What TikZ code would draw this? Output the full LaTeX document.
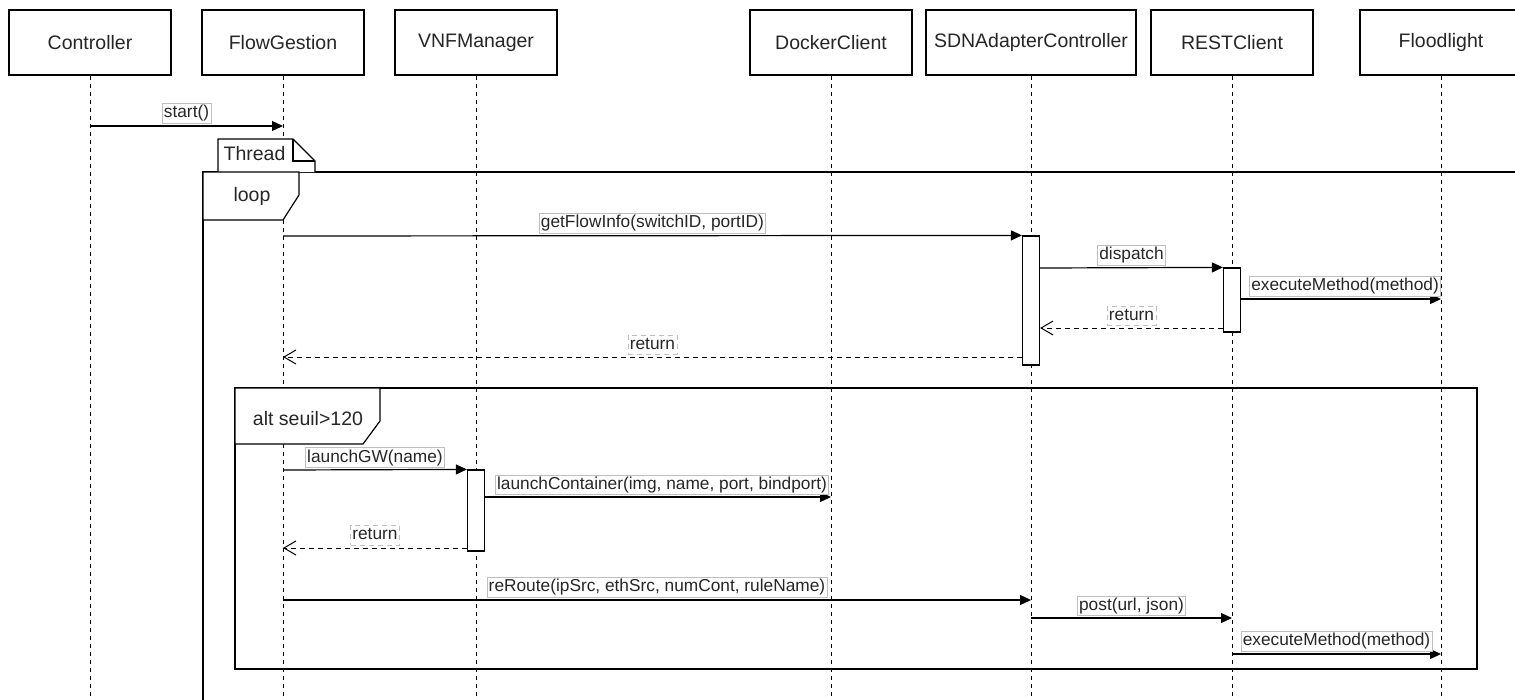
\documentclass[tikz,border=0pt]{standalone}
\usepackage{fontspec}
\setmainfont{Liberation Sans}
\usetikzlibrary{arrows.meta}
\begin{document}
\begin{tikzpicture}[x=1pt,y=-1pt,
  every node/.style={text=black!85},
  head/.style={draw, line width=1.2pt, minimum width=162pt, minimum height=65pt,
    inner sep=0pt, fill=white, font=\fontsize{19.5}{22}\selectfont},
  life/.style={line width=1pt, dash pattern=on 4pt off 4pt},
  act/.style={draw, line width=1.2pt, fill=white, minimum width=17pt, inner sep=0pt},
  msg/.style={line width=1.2pt, -{Triangle[length=11pt,width=10pt]}},
  ret/.style={line width=1pt, dash pattern=on 5pt off 4pt,
    -{Straight Barb[length=12pt,width=14pt,line width=1pt]}},
  lbl/.style={draw=black!25, line width=0.6pt, fill=white, inner sep=1.8pt,
    text height=12.6pt, text depth=3.6pt, font=\fontsize{17.3}{20}\selectfont},
  frame/.style={line width=1.2pt},
  ftag/.style={inner sep=0pt, font=\fontsize{19.5}{22}\selectfont}
]
\useasboundingbox (0,0) rectangle (1515,699);
\clip (0,0) rectangle (1515,699);

% participants
\node[head] (ctl) at (90,42.5) {Controller};
\node[head] (fg)  at (283,42.5) {FlowGestion};
\node[head] (vnf) at (476,42.5) {VNFManager};
\node[head] (dc)  at (831,42.5) {DockerClient};
\node[head, minimum width=210pt] (sdn) at (1031,42.5) {SDNAdapterController};
\node[head] (rc)  at (1232,42.5) {RESTClient};
\node[head] (fl)  at (1441,42.5) {Floodlight};

% lifelines
\foreach \p in {ctl,fg,vnf,dc,sdn,rc,fl}
  \draw[life] (\p.south) -- (\p |- 0,705);

% Thread / loop frame
\draw[frame] (203,710) -- (203,172) -- (1530,172);
\draw[frame, fill=white] (218,172) -- (218,139) -- (293,139) -- (315,161) -- (315,172);
\draw[frame] (293,139) -- (293,161) -- (315,161);
\node[ftag] (thread) at (254.5,154) {Thread};
\draw[frame, fill=white] (203,172) -- (299,172) -- (299,195) -- (283,220) -- (203,220) -- cycle;
\node[ftag] (loop) at (252,196) {loop};

% alt frame
\draw[frame] (235,388) rectangle (1477,669);
\draw[frame, fill=white] (235,388) -- (380,388) -- (380,421) -- (363,444) -- (235,444) -- cycle;
\node[ftag] (alt) at (308,419) {alt seuil>120};

% activations
\node[act, minimum height=129pt] (sdnA) at (1031,300.5) {};
\node[act, minimum height=64pt]  (rcA)  at (1232,300) {};
\node[act, minimum height=81pt]  (vnfA) at (476,510.5) {};

% messages
\draw[msg] (ctl |- 0,126) -- node[lbl, above=2.5pt] {start()} (fg |- 0,126);
\draw[msg] (fg |- 0,236) -- node[lbl, above=2.5pt] {getFlowInfo(switchID, portID)} (sdnA.north west);
\draw[msg] (sdnA.east |- 0,268) -- node[lbl, above=2.5pt] {dispatch} (rcA.north west);
\draw[msg] (rcA.east |- 0,299) -- node[lbl, above=2.5pt, xshift=4pt] {executeMethod(method)} (fl |- 0,299);
\draw[ret] (rcA.west |- 0,328) -- node[lbl, above=2pt] {return} (sdnA.east |- 0,328);
\draw[ret] (sdnA.west |- 0,357) -- node[lbl, above=2pt] {return} (fg |- 0,357);

\draw[msg] (fg |- 0,470) -- node[lbl, above=2pt] {launchGW(name)} (vnfA.north west);
\draw[msg] (vnfA.east |- 0,497) -- node[lbl, above=2pt, xshift=4pt] {launchContainer(img, name, port, bindport)} (dc |- 0,497);
\draw[ret] (vnfA.west |- 0,548) -- node[lbl, above=2.5pt] {return} (fg |- 0,548);
\draw[msg] (fg |- 0,600) -- node[lbl, above=2.5pt] {reRoute(ipSrc, ethSrc, numCont, ruleName)} (sdn |- 0,600);
\draw[msg] (sdn |- 0,618) -- node[lbl, above=2pt] {post(url, json)} (rc |- 0,618);
\draw[msg] (rc |- 0,654) -- node[lbl, above=2.5pt] {executeMethod(method)} (fl |- 0,654);
\end{tikzpicture}
\end{document}
